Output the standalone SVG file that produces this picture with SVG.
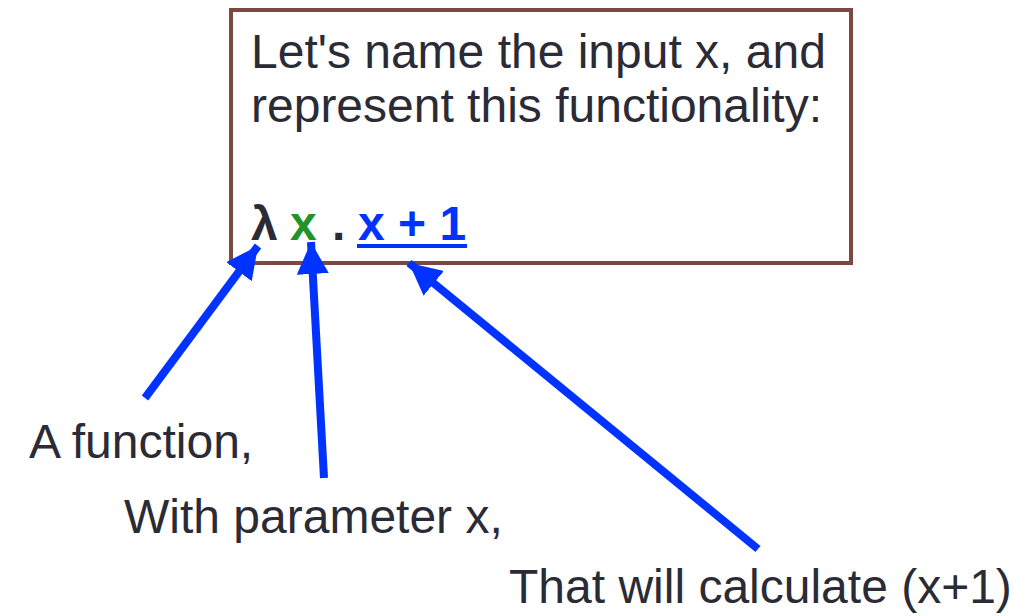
<svg xmlns="http://www.w3.org/2000/svg" width="1014" height="616" viewBox="0 0 1014 616">
<defs>
<style>
.t{font-family:"Liberation Sans",Arial,sans-serif;font-size:48px;fill:#2b2b36}
.b{font-weight:bold}
.arr{stroke:#0033ff;stroke-width:8;fill:none;marker-end:url(#ah)}
</style>
<marker id="ah" markerUnits="userSpaceOnUse" markerWidth="34" markerHeight="32" refX="32" refY="16" orient="auto">
<path d="M0,0 L32,16 L0,32 Z" fill="#0033ff"/>
</marker>
</defs>
<rect width="1014" height="616" fill="#fff"/>
<g id="box">
<rect x="231" y="10" width="620" height="253" fill="#fff" stroke="#7a4a40" stroke-width="4"/>
<text class="t" x="251" y="68">Let's name the input x, and</text>
<text class="t" x="251" y="122">represent this functionality:</text>
<text class="t b" y="240"><tspan x="251">λ</tspan><tspan x="290" fill="#22922a">x</tspan><tspan x="332">.</tspan><tspan x="358" fill="#0033ff">x + 1</tspan></text>
<rect x="357" y="244" width="110" height="4" fill="#0033ff"/>
</g>
<g id="label1"><text class="t" x="29" y="458">A function,</text></g>
<g id="label2"><text class="t" x="124" y="533">With parameter x,</text></g>
<g id="label3"><text class="t" x="509" y="603">That will calculate (x+1)</text></g>
<g id="connectors">
<line class="arr" x1="145" y1="398" x2="258" y2="246"/>
<line class="arr" x1="324" y1="478" x2="311" y2="242"/>
<line class="arr" x1="758" y1="549" x2="409" y2="263"/>
</g>
</svg>
